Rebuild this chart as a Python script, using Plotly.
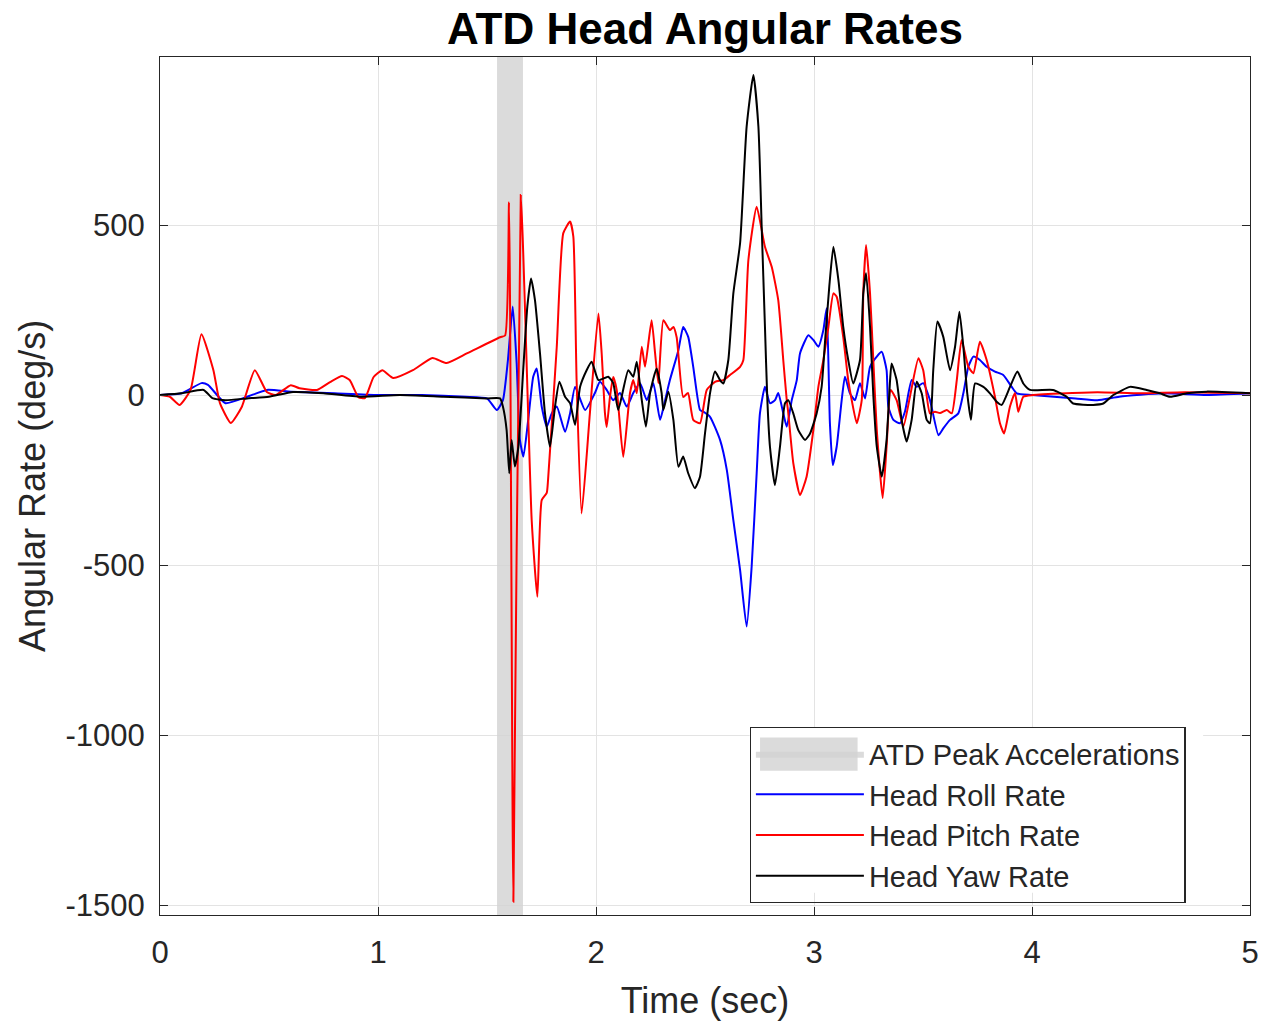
import plotly.graph_objects as go

# ---- data ----
peak_window = [1.546, 1.665]          # ATD peak accelerations (sec)

roll_t = [0, 0.1, 0.19, 0.22, 0.3, 0.4, 0.49, 0.6, 0.8, 1.0, 1.2, 1.4, 1.5, 1.545, 1.573, 1.596,
          1.618, 1.636, 1.651, 1.667, 1.689, 1.712, 1.728, 1.751, 1.774, 1.797, 1.820, 1.858, 1.881,
          1.904, 1.950, 1.995, 2.018, 2.049, 2.079, 2.110, 2.141, 2.171, 2.202, 2.233, 2.263, 2.294,
          2.317, 2.339, 2.378, 2.400, 2.423, 2.446, 2.477, 2.492, 2.523, 2.569, 2.600, 2.630, 2.661,
          2.691, 2.714, 2.737, 2.752, 2.775, 2.798, 2.821, 2.836, 2.859, 2.875, 2.898, 2.921, 2.936,
          2.974, 2.997, 3.020, 3.043, 3.058, 3.073, 3.086, 3.104, 3.127, 3.142, 3.165, 3.188, 3.211,
          3.234, 3.257, 3.288, 3.311, 3.333, 3.341, 3.364, 3.394, 3.417, 3.448, 3.471, 3.501, 3.532,
          3.571, 3.593, 3.624, 3.662, 3.685, 3.708, 3.731, 3.761, 3.792, 3.830, 3.868, 3.907, 3.930,
          4.0, 4.2, 4.3, 4.4, 4.6, 4.8, 5.0]
roll_v = [0, 5, 35, 30, -24, -5, 15, 10, 5, 0, 0, -5, -10, -44, -15, 103,
          260, 94, -132, -181, -73, 54, 78, -34, -93, -54, -34, -108, -54,
          24, -44, 6, 39, 15, -15, 6, -34, 6, 35, -15, 35, -73,
          -15, 44, 132, 200, 171, 83, -44, -49, -64, -132, -220, -368, -515,
          -681, -505, -230, -54, 24, -24, -15, 6, -53, -93, -15, 44, 123,
          176, 162, 142, 191, 255, -83, -206, -152, -15, 54, 5, -15, 35,
          -10, 83, 113, 127, 73, -34, -73, -83, -49, 44, 24, 35, -15,
          -118, -98, -73, -54, 5, 83, 113, 103, 83, 69, 59, 24, 5,
          0, -10, -15, -5, 5, 0, 5]

pitch_t = [0, 0.045, 0.09, 0.14, 0.19, 0.245, 0.275, 0.325, 0.375, 0.435, 0.49, 0.53, 0.6, 0.64,
           0.72, 0.78, 0.835, 0.87, 0.91, 0.94, 0.98, 1.02, 1.07, 1.16, 1.25, 1.315, 1.41, 1.56,
           1.583, 1.601, 1.621, 1.655, 1.705, 1.731, 1.751, 1.774, 1.780, 1.820, 1.850, 1.881,
           1.896, 1.911, 1.934, 1.972, 2.011, 2.026, 2.041, 2.049, 2.064, 2.079, 2.095, 2.125,
           2.156, 2.171, 2.187, 2.210, 2.225, 2.255, 2.271, 2.286, 2.309, 2.339, 2.355, 2.370,
           2.400, 2.422, 2.446, 2.477, 2.508, 2.546, 2.584, 2.615, 2.661, 2.676, 2.699, 2.737,
           2.775, 2.806, 2.836, 2.859, 2.875, 2.882, 2.905, 2.936, 2.966, 2.997, 3.020, 3.043,
           3.066, 3.089, 3.104, 3.134, 3.157, 3.173, 3.196, 3.219, 3.226, 3.239, 3.257, 3.272,
           3.288, 3.315, 3.333, 3.352, 3.379, 3.410, 3.440, 3.479, 3.501, 3.532, 3.555, 3.578,
           3.609, 3.632, 3.655, 3.677, 3.708, 3.731, 3.761, 3.792, 3.830, 3.853, 3.872, 3.899,
           3.922, 3.937, 3.960, 4.005, 4.159, 4.3, 4.5, 4.7, 5.0]
pitch_v = [0, -5, -29, 15, 179, 73, -24, -82, -35, 73, 9, 0, 29, 20,
           15, 38, 56, 44, -6, -9, 53, 73, 50, 73, 109, 94, 123, 170,
           175, 567, -1490, 588, -368, -593, -309, -288, -250, 142, 476, 510,
           466, 44, -348, -53, 240, 123, -53, -94, -6, 53, 15, -182,
           6, 44, 5, 142, 83, 220, 123, 35, 220, 191, 200, 170,
           -6, 6, -73, -83, 15, 39, 44, 59, 83, 103, 397, 554,
           436, 377, 279, 103, -15, -53, -200, -294, -240, -103, 24, 103,
           200, 299, 289, 171, 44, -15, -83, -15, 299, 441, 299, 103,
           -103, -303, -152, 15, -15, -93, -5, 108, 73, -54, -49, -53,
           -44, -54, 44, 162, 83, 64, 157, 103, -5, -83, -113, -34,
           6, -49, -5, 0, 5, 8, 5, 8, 5]

yaw_t = [0, 0.1, 0.2, 0.24, 0.3, 0.4, 0.5, 0.61, 0.75, 0.92, 1.1, 1.3, 1.5, 1.56, 1.573, 1.590,
         1.602, 1.613, 1.628, 1.644, 1.667, 1.685, 1.702, 1.720, 1.743, 1.766, 1.789, 1.812, 1.832,
         1.858, 1.881, 1.904, 1.927, 1.957, 1.980, 2.011, 2.056, 2.079, 2.102, 2.148, 2.171, 2.187,
         2.210, 2.229, 2.248, 2.278, 2.301, 2.309, 2.332, 2.355, 2.378, 2.400, 2.423, 2.454, 2.477,
         2.5, 2.523, 2.546, 2.569, 2.584, 2.607, 2.630, 2.661, 2.691, 2.722, 2.745, 2.760, 2.775,
         2.786, 2.798, 2.821, 2.844, 2.867, 2.882, 2.905, 2.928, 2.959, 2.982, 3.012, 3.035, 3.050,
         3.070, 3.089, 3.112, 3.134, 3.157, 3.180, 3.211, 3.226, 3.239, 3.257, 3.272, 3.288, 3.311,
         3.333, 3.349, 3.356, 3.379, 3.402, 3.425, 3.448, 3.471, 3.494, 3.517, 3.532, 3.547, 3.566,
         3.593, 3.624, 3.647, 3.667, 3.685, 3.703, 3.720, 3.739, 3.777, 3.807, 3.838, 3.861, 3.899,
         3.933, 3.960, 3.991, 4.096, 4.159, 4.189, 4.281, 4.327, 4.373, 4.450, 4.526, 4.587, 4.633,
         4.710, 4.801, 5.0]
yaw_v = [0, 5, 15, -9, -15, -10, -5, 9, 5, -5, 0, -5, -10, -10, -34, -103,
         -230, -132, -210, -152, 83, 260, 343, 279, 123, -54, -152, -34, 39,
         -5, -24, -88, 24, 73, 98, 44, 54, 35, -44, 73, 54, 98,
         -15, -93, 6, 78, 6, -44, 10, -73, -211, -181, -230, -274, -240,
         -113, 5, 69, 44, 34, 103, 299, 447, 789, 941, 789, 495, 201,
         -15, -152, -265, -152, -24, -15, -54, -103, -132, -113, -54, 24, 152,
         318, 436, 338, 201, 103, 34, 103, 299, 358, 201, 0, -152, -240,
         -132, 44, 93, 44, -73, -137, -73, 39, 5, -73, -83, 73, 216,
         171, 73, 142, 245, 142, 5, -73, 34, 24, 5, -20, -29, 24,
         69, 34, 15, 15, -5, -25, -29, -25, 0, 24, 15, 5, -5,
         5, 10, 5]

x_ticks = [0, 1, 2, 3, 4, 5]
y_ticks = [500, 0, -500, -1000, -1500]
y_range = [-1529, 994]

# ---- figure ----
FONT = "Liberation Sans, Arial, sans-serif"
BAND = "rgba(210,210,210,0.8)"
fig = go.Figure()

fig.add_trace(go.Scatter(
    x=[peak_window[0], peak_window[1], peak_window[1], peak_window[0], peak_window[0]],
    y=[y_range[0], y_range[0], y_range[1], y_range[1], y_range[0]],
    fill="toself", fillcolor=BAND, mode="lines",
    line=dict(width=0, color=BAND),
    name="ATD Peak Accelerations", hoverinfo="skip"))

line_style = dict(width=2, shape="spline", smoothing=0.5)
fig.add_trace(go.Scatter(x=roll_t, y=roll_v, mode="lines", name="Head Roll Rate",
                         line=dict(color="#0000ff", **line_style)))
fig.add_trace(go.Scatter(x=pitch_t, y=pitch_v, mode="lines", name="Head Pitch Rate",
                         line=dict(color="#ff0000", **line_style)))
fig.add_trace(go.Scatter(x=yaw_t, y=yaw_v, mode="lines", name="Head Yaw Rate",
                         line=dict(color="#000000", **line_style)))

axis_common = dict(
    showline=True, linecolor="#262626", linewidth=1.2, mirror="ticks",
    ticks="inside", ticklen=8, tickcolor="#262626",
    showgrid=True, gridcolor="#e3e3e3", gridwidth=1, zeroline=False,
    tickfont=dict(family=FONT, size=31, color="#262626"),
    automargin=False,
)

fig.update_xaxes(range=[0, 5], tickvals=x_ticks, ticktext=[str(v) for v in x_ticks],
                 title=dict(text="Time (sec)", font=dict(family=FONT, size=36, color="#262626"),
                            standoff=18),
                 ticklabelstandoff=10, **axis_common)
fig.update_yaxes(range=y_range, tickvals=y_ticks, ticktext=[str(v) for v in y_ticks],
                 ticklabelstandoff=8, **axis_common)

# y-axis title placed as a rotated annotation (matches the reference position)
fig.add_annotation(text="Angular Rate (deg/s)", xref="paper", yref="paper", x=0, y=0.5,
                   xanchor="center", yanchor="middle", xshift=-128, textangle=-90,
                   showarrow=False, font=dict(family=FONT, size=36, color="#262626"))

# legend: white backing and a wide grey swatch like the reference legend
LEG_X, LEG_Y = 0.541, 0.219
fig.add_shape(type="rect", xref="paper", yref="paper", layer="above",
              x0=LEG_X, x1=0.957, y0=LEG_Y - 0.193, y1=LEG_Y,
              fillcolor="white", line=dict(width=0))
fig.add_shape(type="rect", xref="paper", yref="paper", layer="above",
              x0=0.5505, x1=0.640, y0=0.168, y1=0.207,
              fillcolor=BAND, line=dict(width=0))

fig.update_layout(
    width=1262, height=1024,
    margin=dict(l=160, r=12, t=57, b=109, autoexpand=False),
    paper_bgcolor="white", plot_bgcolor="white",
    title=dict(text="<b>ATD Head Angular Rates</b>", x=0.5, xref="paper", xanchor="center",
               y=1 - 29 / 1024, yref="container", yanchor="middle", automargin=False,
               font=dict(family=FONT, size=44, color="black")),
    legend=dict(x=LEG_X, y=LEG_Y, xanchor="left", yanchor="top",
                bgcolor="rgba(0,0,0,0)", bordercolor="#262626", borderwidth=1.2,
                font=dict(family=FONT, size=29, color="#262626"),
                itemwidth=108, tracegroupgap=0),
    showlegend=True,
)

fig.write_html("out.html", config={"displayModeBar": False},
               post_script="document.body.style.margin='0px';")
